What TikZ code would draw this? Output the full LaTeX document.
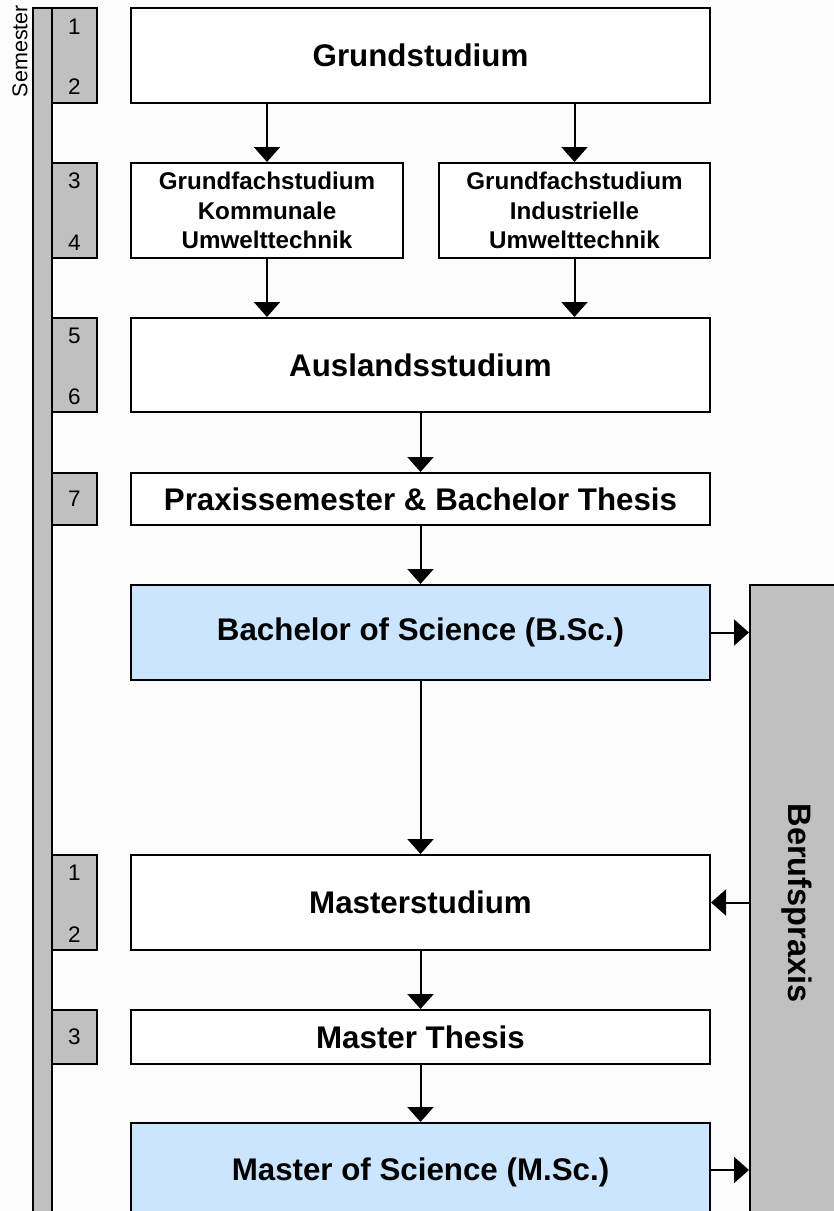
\documentclass[tikz,border=0pt]{standalone}
\usepackage{fontspec}
\setmainfont{Liberation Sans}
\usetikzlibrary{arrows.meta}
\definecolor{bg}{RGB}{252,252,252}
\definecolor{semgray}{RGB}{192,192,192}
\definecolor{lightblue}{RGB}{204,229,255}
\tikzset{
  box/.style={draw=black, line width=2pt, fill=white, rectangle, inner sep=0pt, align=center},
  bigtxt/.style={font=\fontsize{31.3}{36}\selectfont\bfseries},
  smalltxt/.style={font=\fontsize{24.2}{29.5}\selectfont\bfseries},
  sembox/.style={draw=black, line width=2pt, fill=semgray, rectangle, inner sep=0pt, minimum width=45pt},
  semnum/.style={font=\fontsize{22.5}{24}\selectfont, inner sep=0pt},
  arr/.style={line width=2pt, -{Triangle[length=15pt,width=26pt]}}
}
\begin{document}
\begin{tikzpicture}[x=1pt,y=-1pt]
\useasboundingbox (0,0) rectangle (834,1211);
\fill[bg] (0,0) rectangle (834,1211);
\clip (0,0) rectangle (834,1211);

% Semester label and bar
\node[rotate=90, font=\fontsize{21.5}{24}\selectfont, inner sep=0pt] (semlabel) at (20,51) {Semester};
\node[draw=black, line width=2pt, fill=semgray, rectangle, inner sep=0pt, minimum width=19pt, minimum height=1260pt] (bar) at (42.5,638) {};

% Semester boxes
\node[sembox, minimum height=95pt] (s12) at (74.5,55.5) {};
\node[semnum] at ([yshift=-20pt]s12.north) {1};
\node[semnum] at ([yshift=17pt]s12.south) {2};
\node[sembox, minimum height=95pt] (s34) at (74.5,210.5) {};
\node[semnum] at ([yshift=-19pt]s34.north) {3};
\node[semnum] at ([yshift=16pt]s34.south) {4};
\node[sembox, minimum height=94pt] (s56) at (74.5,365) {};
\node[semnum] at ([yshift=-19pt]s56.north) {5};
\node[semnum] at ([yshift=16pt]s56.south) {6};
\node[sembox, minimum height=52pt] (s7) at (74.5,499) {};
\node[semnum] at (s7.center) {7};
\node[sembox, minimum height=95pt] (m12) at (74.5,902.5) {};
\node[semnum] at ([yshift=-19pt]m12.north) {1};
\node[semnum] at ([yshift=16pt]m12.south) {2};
\node[sembox, minimum height=54pt] (m3) at (74.5,1037) {};
\node[semnum] at (m3.center) {3};

% Main boxes
\node[box, bigtxt, minimum width=579pt, minimum height=95pt] (grund) at (420.5,55.5) {Grundstudium};
\node[box, smalltxt, minimum width=272pt, minimum height=95pt] (kom) at (267,210.5) {Grundfachstudium\\Kommunale\\Umwelttechnik};
\node[box, smalltxt, minimum width=271pt, minimum height=95pt] (ind) at (574.5,210.5) {Grundfachstudium\\Industrielle\\Umwelttechnik};
\node[box, bigtxt, minimum width=579pt, minimum height=94pt] (ausl) at (420.5,365) {Auslandsstudium};
\node[box, bigtxt, minimum width=579pt, minimum height=52pt] (prax) at (420.5,499) {Praxissemester \& Bachelor Thesis};
\node[box, bigtxt, fill=lightblue, minimum width=579pt, minimum height=95pt] (bsc) at (420.5,632.5) {Bachelor of Science (B.Sc.)};
\node[box, bigtxt, minimum width=579pt, minimum height=95pt] (mst) at (420.5,902.5) {Masterstudium};
\node[box, bigtxt, minimum width=579pt, minimum height=54pt] (mth) at (420.5,1037) {Master Thesis};
\node[box, bigtxt, fill=lightblue, minimum width=579pt, minimum height=98pt] (msc) at (420.5,1172) {Master of Science (M.Sc.)};

% Berufspraxis
\node[draw=black, line width=2pt, fill=semgray, rectangle, inner sep=0pt, minimum width=94pt, minimum height=636pt,
      font=\fontsize{32.5}{36}\selectfont\bfseries] (beruf) at (797,903) {\rotatebox{-90}{Berufspraxis}};

% Arrows
\draw[arr] (grund.south -| kom.north) -- (kom.north);
\draw[arr] (grund.south -| ind.north) -- (ind.north);
\draw[arr] (kom.south) -- (kom.south |- ausl.north);
\draw[arr] (ind.south) -- (ind.south |- ausl.north);
\draw[arr] (ausl.south) -- (prax.north);
\draw[arr] (prax.south) -- (bsc.north);
\draw[arr] (bsc.south) -- (mst.north);
\draw[arr] (mst.south) -- (mth.north);
\draw[arr] (mth.south) -- (msc.north);
\draw[arr] (bsc.east) -- (bsc.east -| beruf.west);
\draw[arr] (mst.east -| beruf.west) -- (mst.east);
\draw[arr] (msc.east |- 0,1170) -- (beruf.west |- 0,1170);
\end{tikzpicture}
\end{document}
